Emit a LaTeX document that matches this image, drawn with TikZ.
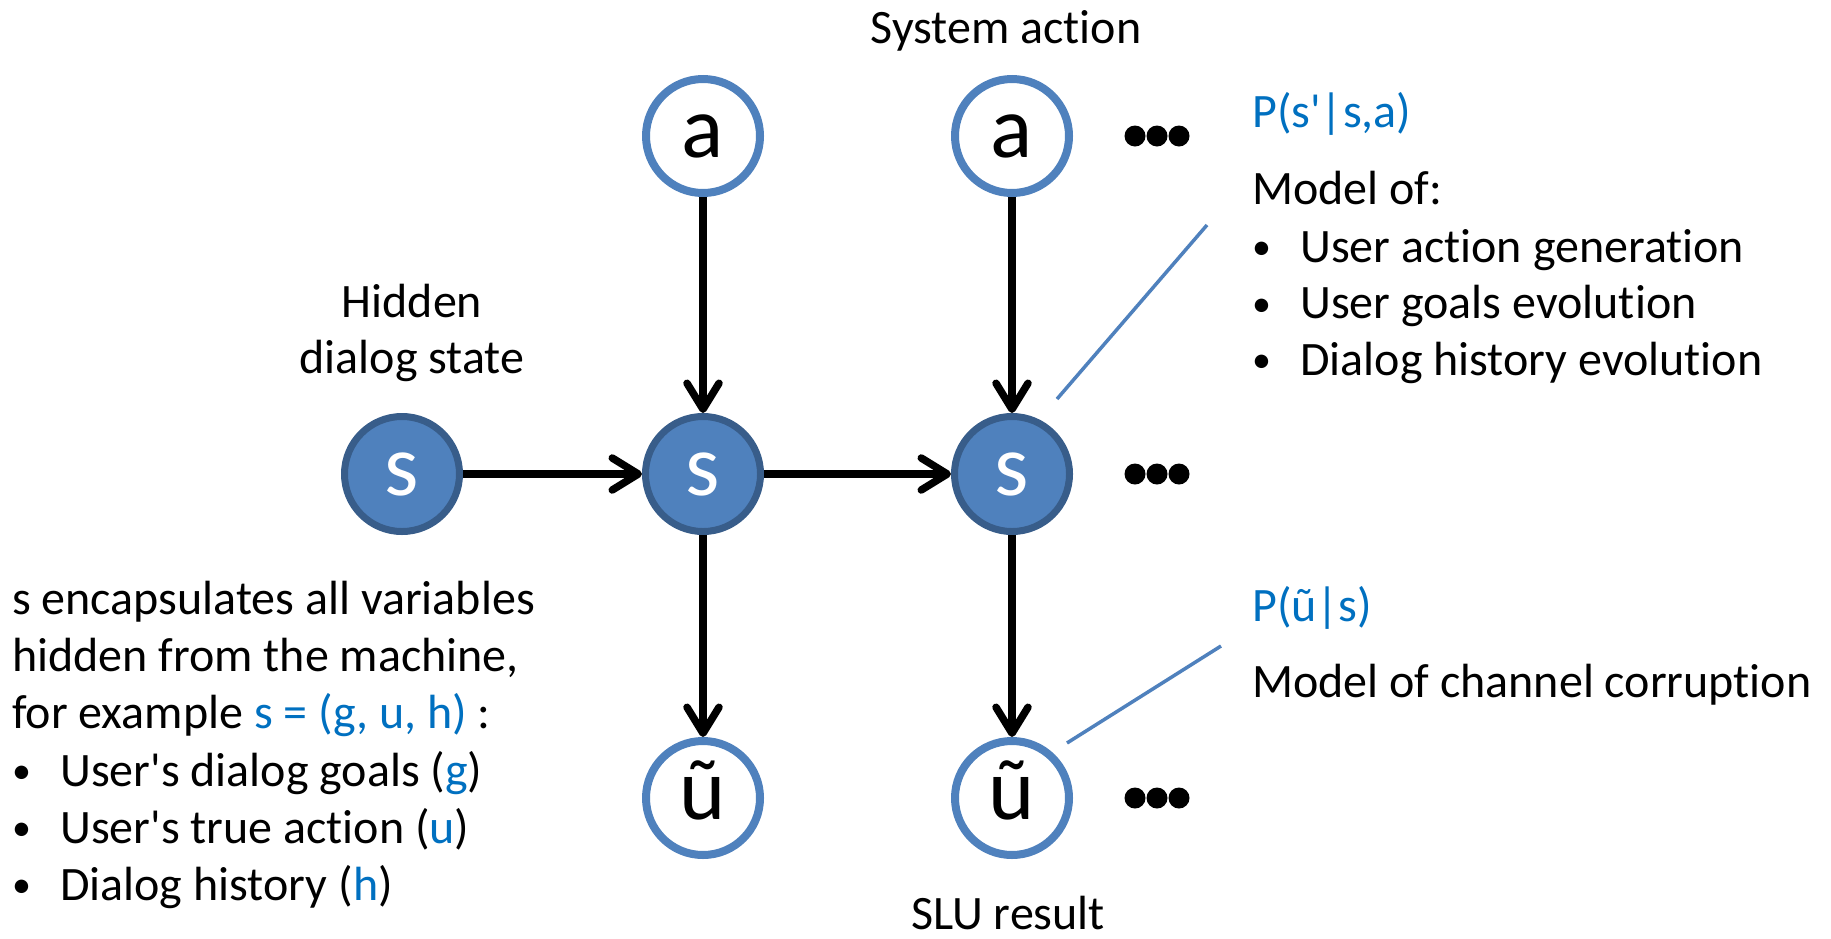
\documentclass[tikz,border=0pt]{standalone}
\usepackage{fontspec}
\setmainfont{Carlito}[Ligatures=NoCommon]
\usetikzlibrary{arrows.meta}
\definecolor{nodeblue}{HTML}{4F81BD}
\definecolor{nodeedge}{HTML}{385D8A}
\definecolor{textblue}{HTML}{0070C0}
% bullet item with a fixed indent
\newcommand\bitem[1]{\makebox[48pt][l]{\raisebox{2.5pt}{\fontsize{38}{45}\selectfont •}}#1}
\begin{document}
\begin{tikzpicture}[x=1pt,y=-1pt,
  varlabel/.style={font=\fontsize{88}{100}\selectfont, text height=42pt, text depth=0pt, inner sep=0pt},
  hiddenvar/.style={circle, varlabel, fill=nodeblue, draw=nodeedge, line width=7pt, minimum size=115pt, text=white},
  observedvar/.style={circle, varlabel, fill=white, draw=nodeblue, line width=8pt, minimum size=114pt},
  flow/.style={line width=7.5pt, -{Straight Barb[length=26pt,width=32pt,round]}},
  callout/.style={draw=nodeblue, line width=3.5pt},
  txt/.style={font=\fontsize{48}{57}\selectfont, inner sep=0pt, anchor=base west},
  ctxt/.style={txt, anchor=base},
]
\fill[white] (0,0) rectangle (1831,938);
\useasboundingbox (0,0) rectangle (1831,938);

% variables
\node[hiddenvar] (s0) at (402,474) {s};
\node[hiddenvar] (s1) at (703,474) {s};
\node[hiddenvar] (s2) at (1012,474) {s};
\node[observedvar] (a1) at (703,136) {a};
\node[observedvar] (a2) at (1012,136) {a};
\node[observedvar] (u1) at (703,798) {ũ};
\node[observedvar] (u2) at (1012,798) {ũ};

% dependencies
\draw[flow] (s0) -- (s1);
\draw[flow] (s1) -- (s2);
\draw[flow] (a1) -- (s1);
\draw[flow] (a2) -- (s2);
\draw[flow] (s1) -- (u1);
\draw[flow] (s2) -- (u2);

% continuation dots
\foreach \y in {136,474,798}{
  \foreach \x in {1135,1157,1179}{
    \fill (\x,\y) circle[radius=10.5pt];
  }
}

% captions
\node[ctxt] (sysact) at (1006,43) {System action};
\node[ctxt] (hid1) at (412,317) {Hidden};
\node[ctxt] (hid2) at (412,373) {dialog state};
\node[ctxt] (slu) at (1008,929) {SLU result};

% transition model
\node[txt, text=textblue] (ptrans) at (1252,127) {P(s\textquotesingle|s,a)};
\node[txt] (mof) at (1252,204) {Model of:};
\node[txt] (m1) at (1252,262) {\bitem{User action generation}};
\node[txt] (m2) at (1252,318.5) {\bitem{User goals evolution}};
\node[txt] (m3) at (1252,375) {\bitem{Dialog history evolution}};

% observation model
\node[txt, text=textblue] (pobs) at (1252,621) {P(ũ|s)};
\node[txt] (mch) at (1252,697) {Model of channel corruption};

% state description
\node[txt] (l1) at (12,614) {s encapsulates all variables};
\node[txt] (l2) at (12,671) {hidden from the machine,};
\node[txt] (l3) at (12,728) {for example \textcolor{textblue}{s = (g, u, h)} :};
\node[txt] (l4) at (12,786) {\bitem{User\textquotesingle s dialog goals (\textcolor{textblue}{g})}};
\node[txt] (l5) at (12,843) {\bitem{User\textquotesingle s true action (\textcolor{textblue}{u})}};
\node[txt] (l6) at (12,900) {\bitem{Dialog history (\textcolor{textblue}{h})}};

% callout leaders
\coordinate (t1) at (1207,225);
\coordinate (t2) at (1057,399);
\coordinate (o1) at (1221,646);
\coordinate (o2) at (1067,743);
\draw[callout] (t1) -- (t2);
\draw[callout] (o1) -- (o2);
\end{tikzpicture}
\end{document}
